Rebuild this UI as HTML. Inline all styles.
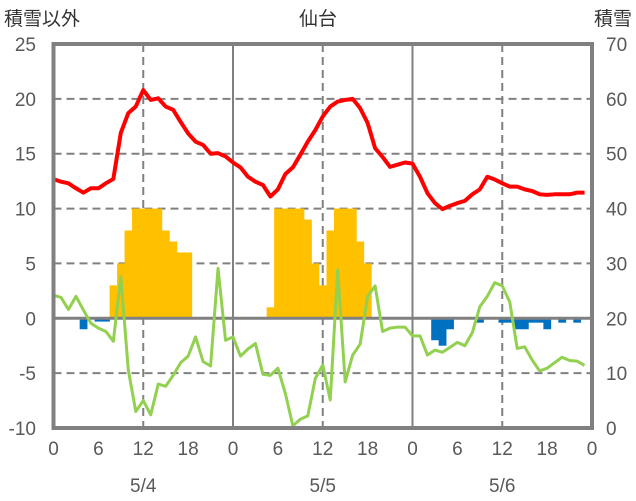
<!DOCTYPE html>
<html><head><meta charset="utf-8"><style>
html,body{margin:0;padding:0;background:#fff;}
svg{display:block;font-family:"Liberation Sans","Noto Sans CJK JP",sans-serif;}
</style></head><body>
<svg id="chart" width="636" height="501" viewBox="0 0 636 501"></svg>
<script>
const hours = Array.from({length:72},(_,i)=>i);
const tempValues = [12.7,12.45,12.3,11.85,11.45,11.85,11.85,12.3,12.7,16.9,18.7,19.3,20.8,19.9,20.05,19.3,19.0,17.9,16.85,16.1,15.8,15.0,15.05,14.75,
14.2,13.75,12.9,12.45,12.15,11.1,11.75,13.15,13.75,14.9,16.1,17.15,18.4,19.3,19.75,19.9,20.0,19.15,17.8,15.5,14.7,13.8,14.0,14.2,
14.1,12.9,11.4,10.5,9.95,10.25,10.5,10.7,11.3,11.75,12.9,12.65,12.3,12.0,12.0,11.75,11.6,11.3,11.25,11.3,11.3,11.3,11.45,11.45];
const diffValues = [2.1,1.9,0.8,2.0,0.75,-0.45,-0.9,-1.2,-2.1,3.8,-4.7,-8.5,-7.5,-8.8,-6.0,-6.2,-5.2,-4.05,-3.45,-1.7,-3.95,-4.35,4.55,-2.0,
-1.7,-3.45,-2.8,-2.3,-5.1,-5.2,-4.55,-6.85,-9.8,-9.2,-8.9,-5.5,-4.25,-7.45,4.4,-5.8,-3.35,-2.35,2.0,2.95,-1.2,-0.9,-0.8,-0.8,
-1.6,-1.6,-3.35,-2.9,-3.1,-2.65,-2.2,-2.5,-1.3,1.05,2.0,3.25,2.95,1.5,-2.75,-2.6,-3.8,-4.8,-4.55,-4.05,-3.55,-3.85,-3.9,-4.3];
const snowHours = [8,9,10,11,12,13,14,15,16,17,18,29,30,31,32,33,34,35,36,37,38,39,40,41,42];
const snowValues = [3,5,8,10,10,10,10,8,7,6,6,1,10,10,10,10,9,5,3,8,10,10,10,7,5];
const meltHours = [4,6,7,51,52,53,57,60,61,62,63,64,65,66,68,70];
const meltValues = [-1,-0.3,-0.3,-2,-2.5,-1,-0.4,-0.4,-0.4,-1,-1,-0.4,-0.4,-1,-0.4,-0.4];
const leftTicks = [25,20,15,10,5,0,-5,-10];
const rightTicks = [70,60,50,40,30,20,10,0];
const xTickLabels = ["0","6","12","18","0","6","12","18","0","6","12","18","0"];
const dateLabels = ["5/4","5/5","5/6"];

const X0=53.5,X1=592,Y0=44,Y1=428;
const x = h => X0 + (X1-X0)*h/72;
const y = v => Y0 + (25-v)*(Y1-Y0)/35;
const yR = v => Y0 + (70-v)*(Y1-Y0)/70;
const svg=document.getElementById('chart');
const NS='http://www.w3.org/2000/svg';
function mk(tag,attrs,parent){const e=document.createElementNS(NS,tag);for(const k in attrs)e.setAttribute(k,attrs[k]);(parent||svg).appendChild(e);return e;}

// grid
leftTicks.forEach(v=>{
  if(v===25||v===-10||v===0) return;
  const l=mk('line',{x1:X0,x2:X1,y1:y(v),y2:y(v),stroke:'#808080','stroke-width':2,'stroke-dasharray':'8,5'});
  
  
});
[12,36,60].forEach(h=>{
  const l=mk('line',{x1:x(h),x2:x(h),y1:Y0,y2:Y1,stroke:'#808080','stroke-width':2,'stroke-dasharray':'8,5'});
  
  
});
[24,48].forEach(h=>{
  const l=mk('line',{x1:x(h),x2:x(h),y1:Y0,y2:Y1,stroke:'#808080','stroke-width':2});
  
  
});
const bw=(X1-X0)/72;
snowHours.forEach((h,i)=>{
  const v=snowValues[i];
  const r=mk('rect',{x:x(h)-bw/2,y:y(v),width:bw+0.3,height:y(0)-y(v),fill:'#FFC000'});
  
  
});
meltHours.forEach((h,i)=>{
  const v=meltValues[i];
  const r=mk('rect',{x:x(h)-bw/2,y:y(0),width:bw+0.3,height:y(v)-y(0),fill:'#0070C0'});
  
  
});
const zl=mk('line',{x1:X0,x2:X1,y1:y(0),y2:y(0),stroke:'#808080','stroke-width':3});



const gp=mk('polyline',{points:diffValues.map((v,i)=>x(hours[i])+','+y(v)).join(' '),fill:'none',stroke:'#92D050','stroke-width':3,'stroke-linejoin':'round'});


const rp=mk('polyline',{points:tempValues.map((v,i)=>x(hours[i])+','+y(v)).join(' '),fill:'none',stroke:'#FF0000','stroke-width':4,'stroke-linejoin':'round'});



const fr=mk('rect',{x:X0,y:Y0,width:X1-X0,height:Y1-Y0,fill:'none',stroke:'#808080','stroke-width':4});



leftTicks.forEach(v=>{
  const t=mk('text',{x:36,y:y(v)+7,'text-anchor':'end','font-size':19,fill:'#595959'});
  t.textContent=v;
  
  
});
rightTicks.forEach(v=>{
  const t=mk('text',{x:606,y:yR(v)+7,'text-anchor':'start','font-size':19,fill:'#595959'});
  t.textContent=v;
  
  
});
xTickLabels.forEach((s,i)=>{
  const t=mk('text',{x:x(i*6),y:455,'text-anchor':'middle','font-size':19,fill:'#595959'});
  t.textContent=s;
  
  
});
dateLabels.forEach((s,i)=>{
  const t=mk('text',{x:x(12+24*i),y:492,'text-anchor':'middle','font-size':19,fill:'#595959'});
  t.textContent=s;
  
  
});
[['積雪以外',4,'start','left-axis-title'],['仙台',318,'middle','chart-title'],['積雪',632,'end','right-axis-title']].forEach(a=>{
  const t=mk('text',{x:a[1],y:25,'text-anchor':a[2],'font-size':19,fill:'#333'});
  t.textContent=a[0];
  
  
});
</script>
</body></html>
